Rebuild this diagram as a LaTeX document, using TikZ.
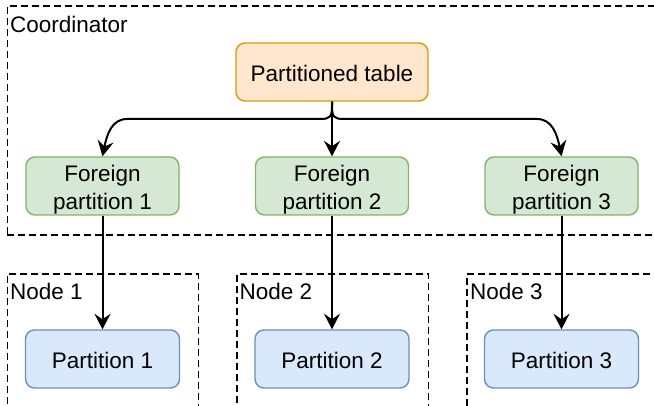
\documentclass[tikz,border=0pt]{standalone}
\usepackage{fontspec}
\setmainfont{Liberation Sans}
\usetikzlibrary{arrows.meta,calc}

\definecolor{tablefill}{HTML}{FFE6CC}
\definecolor{tableline}{HTML}{D79B00}
\definecolor{foreignfill}{HTML}{D5E8D4}
\definecolor{foreignline}{HTML}{82B366}
\definecolor{partfill}{HTML}{DAE8FC}
\definecolor{partline}{HTML}{6C8EBF}

\tikzset{
  txt/.style={font=\fontsize{22.5}{27.6}\selectfont, inner sep=0pt},
  boxtext/.style={txt, align=center},
  box/.style={rounded corners=9pt, line width=1.4pt, inner sep=0pt,
    minimum height=58pt},
  tablebox/.style={box, draw=tableline, fill=tablefill, minimum width=192pt},
  foreignbox/.style={box, draw=foreignline, fill=foreignfill, minimum width=153pt},
  partbox/.style={box, draw=partline, fill=partfill, minimum width=154pt},
  container/.style={draw, line width=1.6pt, dash pattern=on 7pt off 4pt,
    inner sep=0pt, anchor=north west},
  grouplabel/.style={txt, anchor=base west},
  edge/.style={line width=2pt, -{Stealth[length=15.5pt, width=16pt, inset=5.5pt]}},
}

\begin{document}
\begin{tikzpicture}[x=1pt, y=-1pt]
\useasboundingbox (0,0) rectangle (654,406);
\clip (0,0) rectangle (654,406);

% dashed group frames
\node[container, minimum width=693.5pt, minimum height=229pt] (coord) at (6.5,5) {};
\node[container, minimum width=191pt, minimum height=133pt] (host1) at (6.5,273) {};
\node[container, minimum width=191.5pt, minimum height=133pt] (host2) at (236,273) {};
\node[container, minimum width=234pt, minimum height=133pt] (host3) at (466,273) {};

\node[grouplabel] (coordlbl) at (10,33) {Coordinator};
\node[grouplabel] (host1lbl) at (10,300) {Node 1};
\node[grouplabel] (host2lbl) at (239.5,300) {Node 2};
\node[grouplabel] (host3lbl) at (470,300) {Node 3};

% tables
\node[tablebox] (pt) at (332,72) {};
\node[boxtext] (pttxt) at ($(pt.center)+(0,1.6)$) {Partitioned table};

\node[foreignbox] (fp1) at (102.5,186) {};
\node[foreignbox] (fp2) at (332,186) {};
\node[foreignbox] (fp3) at (561.5,186) {};
\node[boxtext] (fp1txt) at ($(fp1.center)+(0,3.8)$) {Foreign\\partition 1};
\node[boxtext] (fp2txt) at ($(fp2.center)+(0,3.8)$) {Foreign\\partition 2};
\node[boxtext] (fp3txt) at ($(fp3.center)+(0,3.8)$) {Foreign\\partition 3};

\node[partbox] (p1) at (102.5,359) {};
\node[partbox] (p2) at (332,359) {};
\node[partbox] (p3) at (561.5,359) {};
\node[boxtext] (p1txt) at ($(p1.center)+(0,1.3)$) {Partition 1};
\node[boxtext] (p2txt) at ($(p2.center)+(0,1.3)$) {Partition 2};
\node[boxtext] (p3txt) at ($(p3.center)+(0,1.3)$) {Partition 3};

% fan-out from the partitioned table
\draw[edge] (pt.south) -- (fp2.north);
\draw[edge] (pt.south) -- (332,106) .. controls (332,117) and (330,119) .. (320,119)
  -- (127,119) .. controls (112,119) and (107,134) .. (fp1.north);
\draw[edge] (pt.south) -- (332,106) .. controls (332,117) and (334,119) .. (344,119)
  -- (537,119) .. controls (552,119) and (557,134) .. (fp3.north);

% foreign partitions to remote partitions
\draw[edge] (fp1.south) -- (p1.north);
\draw[edge] (fp2.south) -- (p2.north);
\draw[edge] (fp3.south) -- (p3.north);
\end{tikzpicture}
\end{document}
